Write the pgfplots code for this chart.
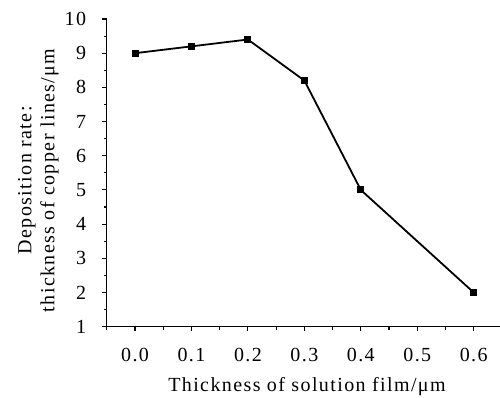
\documentclass[border=0pt]{standalone}
\usepackage{fontspec}
\setmainfont{Liberation Serif}[LetterSpace=7]
\usepackage{pgfplots}
\pgfplotsset{compat=1.18}

\begin{document}
\fontsize{20bp}{23bp}\selectfont
\begin{tikzpicture}
\begin{axis}[
  scale only axis,
  width=394bp, height=307.7bp,
  xmin=-0.5, xmax=6.48,
  ymin=1, ymax=10,
  axis lines=left,
  axis line style={-, line width=1.2bp},
  every tick/.style={black, line width=1.1bp},
  tick align=outside,
  major tick length=4.5bp,
  minor tick length=3bp,
  xtick={0,1,2,3,4,5,6},
  xticklabels={0.0,0.1,0.2,0.3,0.4,0.5,0.6},
  minor xtick={-0.5,0.5,1.5,2.5,3.5,4.5,5.5},
  ytick={1,2,...,10},
  minor ytick={1.5,2.5,...,9.5},
  /pgf/number format/assume math mode=true,
  ticklabel style={font=\fontsize{20bp}{23bp}\selectfont, inner sep=0pt},
  yticklabel shift=16bp,
  xticklabel shift=17bp,
  xlabel={Thickness of solution film/μm},
  ylabel={Deposition rate:\\thickness of copper lines/μm},
  xlabel style={at={(axis description cs:0.508,-0.209)}, anchor=base, inner sep=0pt},
  ylabel style={at={(axis description cs:-0.1218,0.4756)}, anchor=south, rotate=0,
    align=center, inner sep=0pt},
  clip=false,
]
\addplot[black, line width=1.8bp, mark=square*, mark size=2.6bp,
  mark options={solid, fill=black}] coordinates {
  (0,9.0) (1,9.2) (2,9.4) (3,8.2) (4,5.0) (6,2.0)
};
\end{axis}
\pgfresetboundingbox
\path (-106.8bp,-71.3bp) rectangle (393.2bp,326.7bp);
\end{tikzpicture}
\end{document}
